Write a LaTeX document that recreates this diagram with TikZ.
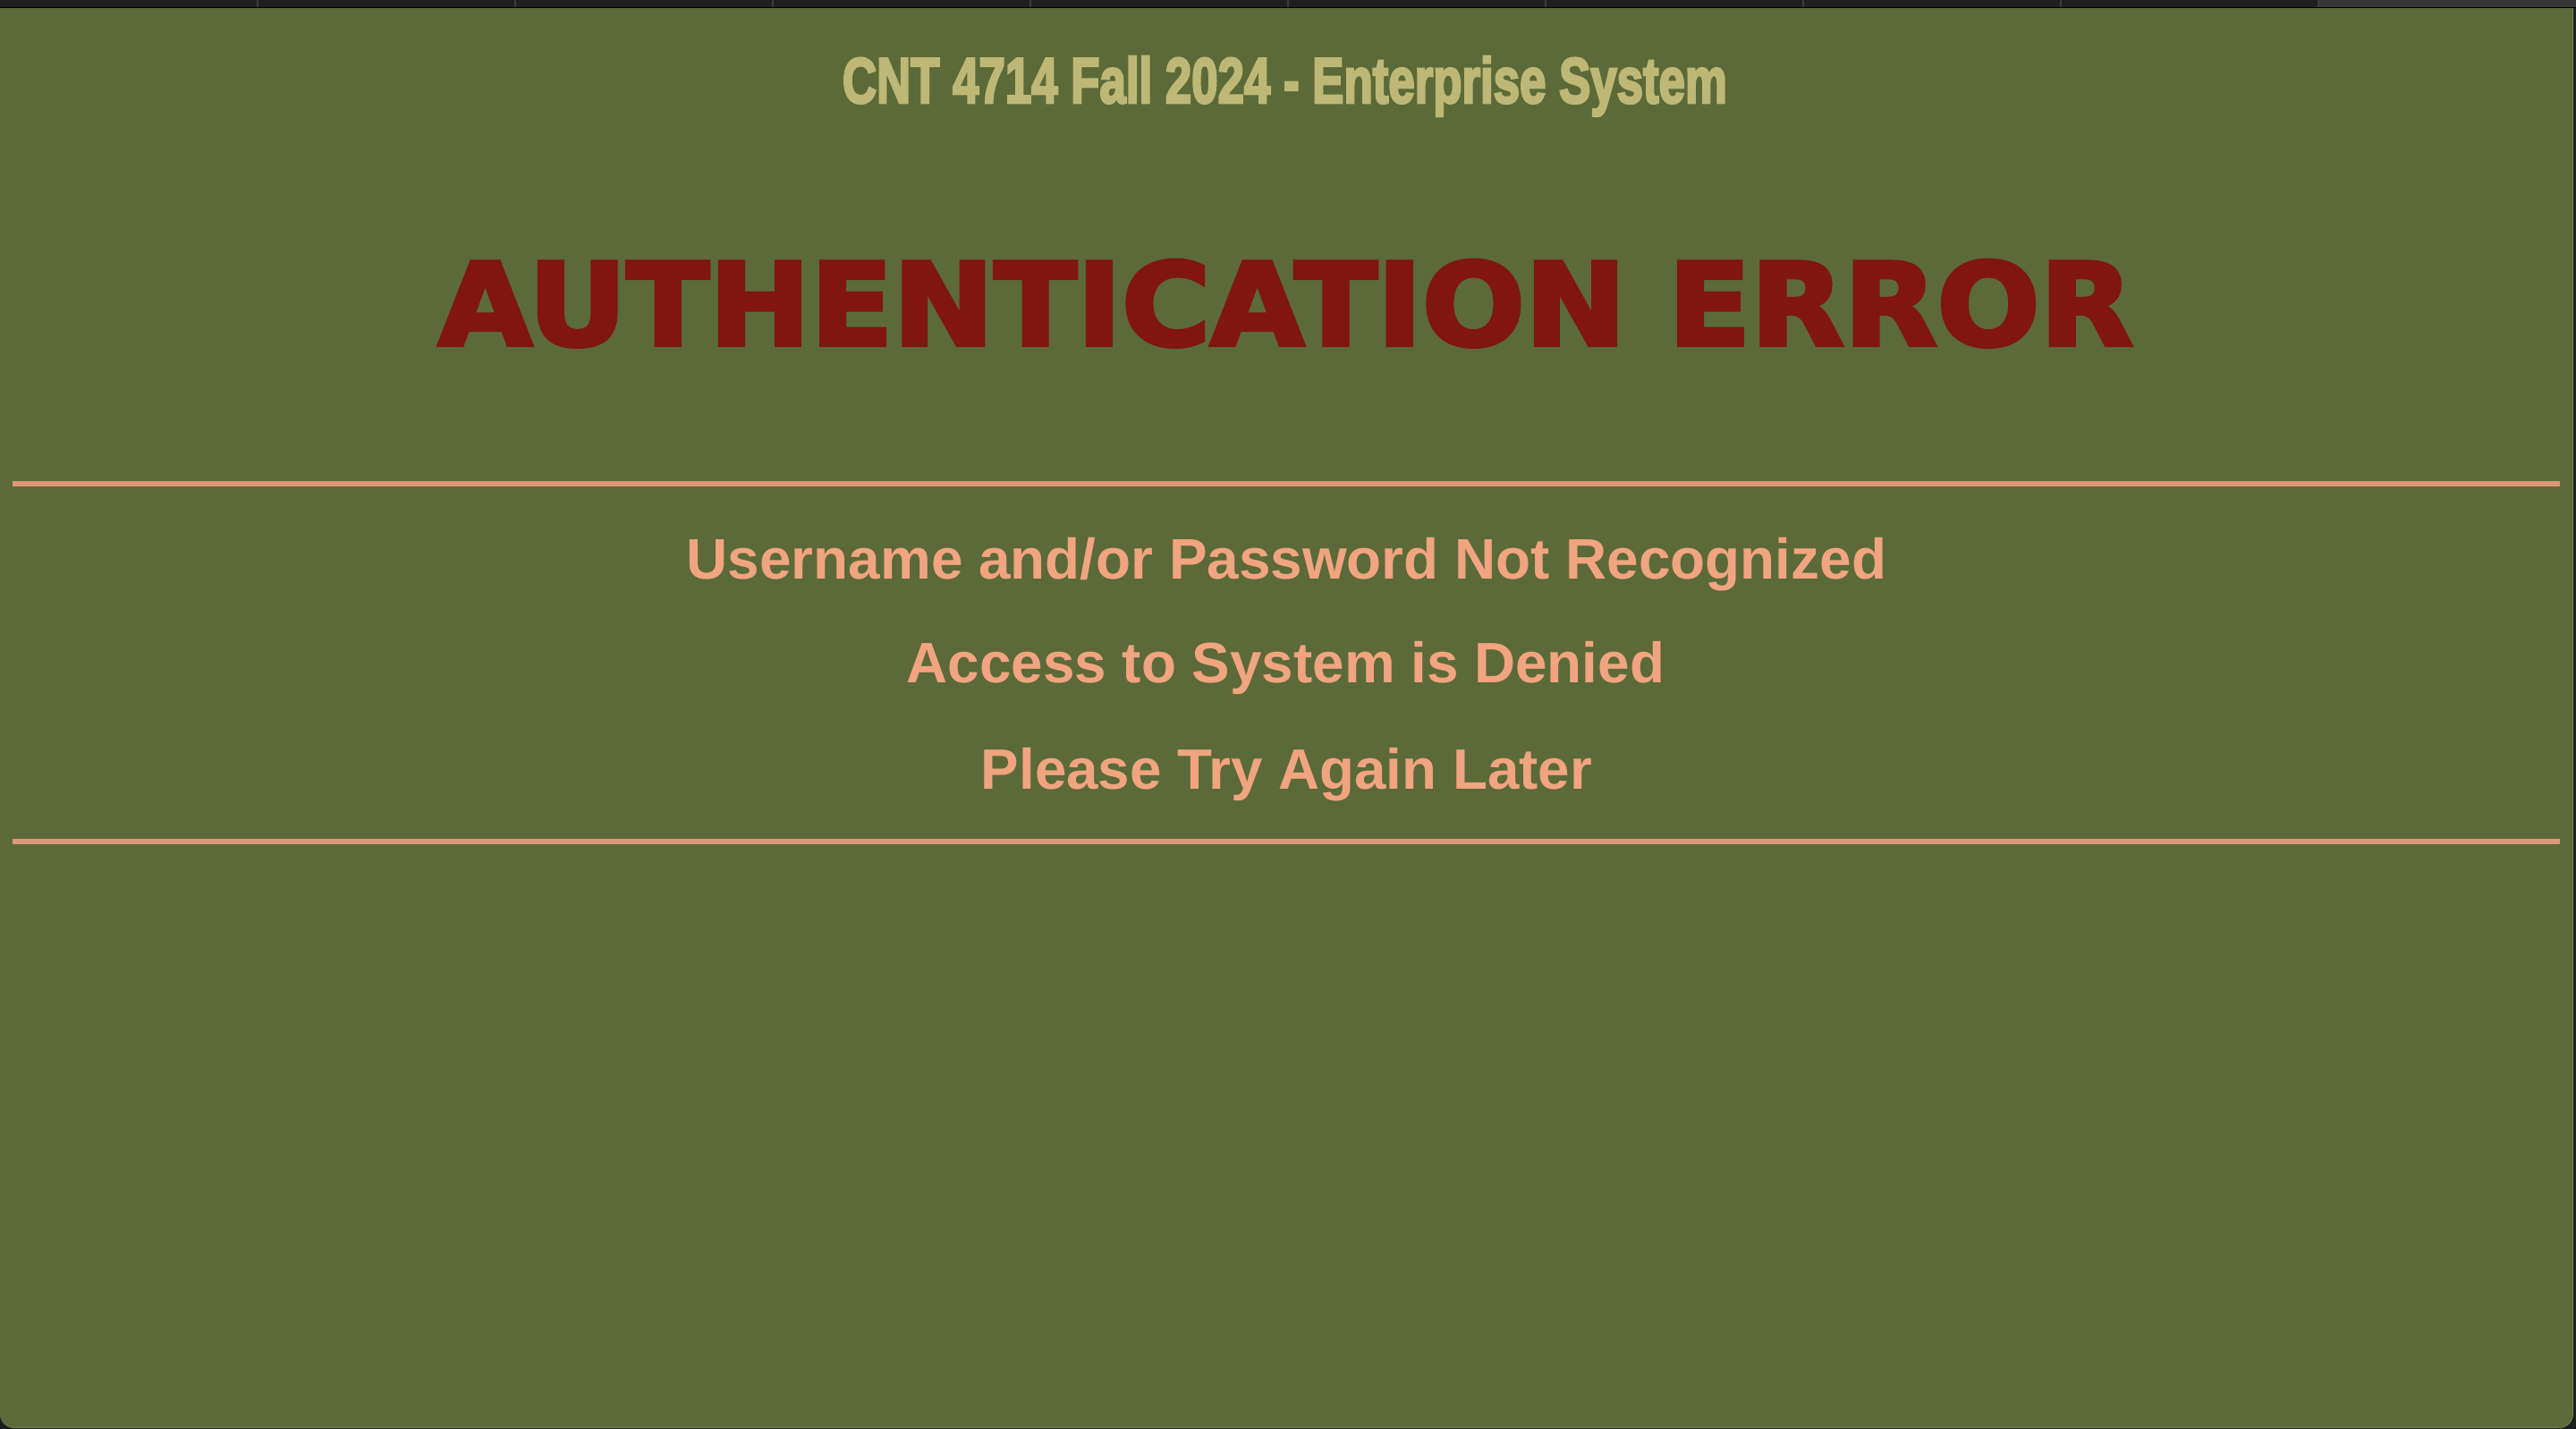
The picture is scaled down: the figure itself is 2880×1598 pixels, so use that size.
\documentclass[tikz,border=0pt]{standalone}
\usepackage{fontspec}
\setmainfont{Liberation Sans}
\newfontfamily\titlefont[UprightFeatures={FakeBold=4}]{Liberation Sans Bold}
\newfontfamily\authfont[UprightFeatures={FakeBold=3.5}]{DejaVu Sans Bold}
\definecolor{panel}{HTML}{5B6A38}
\definecolor{rim}{HTML}{6E7E4C}
\definecolor{backdrop}{HTML}{1C1F1E}
\definecolor{tabbar}{HTML}{1E1E1E}
\definecolor{tabactive}{HTML}{363636}
\definecolor{tabsep}{HTML}{3C3C3C}
\definecolor{khaki}{HTML}{BEB876}
\definecolor{errred}{HTML}{80160F}
\definecolor{salmon}{HTML}{F0A480}
\definecolor{rulecol}{HTML}{DC9878}
\tikzset{
  txt/.style={anchor=base, inner sep=0pt, outer sep=0pt},
  msg/.style={txt, text=salmon},
  hrule/.style={draw=rulecol, line width=3pt},
}
\begin{document}
\begin{tikzpicture}[x=0.5pt,y=-0.5pt]
\useasboundingbox (0,0) rectangle (2880,1598);
% backdrop and window panel
\fill[backdrop] (0,0) rectangle (2880,1598);
\fill[rim, rounded corners=8pt] (0,-30) rectangle (2877,1597);
\fill[panel, rounded corners=8pt] (0,-30) rectangle (2876,1596);
% tab bar
\fill[tabbar] (0,0) rectangle (2880,8);
\fill[tabactive] (2592,0) rectangle (2880,8);
\fill[black] (0,8) rectangle (2880,9.5);
\foreach \k in {1,...,9} {
  \draw[tabsep, line width=0.6pt] (288*\k,0) -- (288*\k,8);
}
% texts
\node[txt, text=khaki] (title) at (1436.5,115)
  {\resizebox{494.5pt}{26pt}{\titlefont CNT 4714 Fall 2024 - Enterprise System}};
\node[txt, text=errred] (auth) at (1437.5,386)
  {\resizebox{947pt}{47.5pt}{\authfont AUTHENTICATION ERROR}};
\coordinate (r1l) at (14,541);
\coordinate (r1r) at (2862,541);
\coordinate (r2l) at (14,941);
\coordinate (r2r) at (2862,941);
\draw[hrule] (r1l) -- (r1r);
\draw[hrule] (r2l) -- (r2r);
\node[msg] (m1) at (1438.5,648)
  {\resizebox{670.5pt}{!}{\bfseries Username and/or Password Not Recognized}};
\node[msg] (m2) at (1437.5,764)
  {\resizebox{423.5pt}{!}{\bfseries Access to System is Denied}};
\node[msg] (m3) at (1438.5,882)
  {\resizebox{341.5pt}{!}{\bfseries Please Try Again Later}};
\end{tikzpicture}
\end{document}
